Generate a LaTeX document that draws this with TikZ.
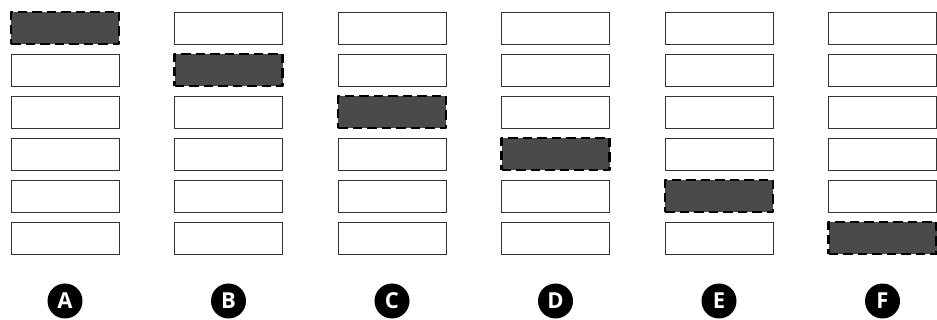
\documentclass[tikz,border=0pt]{standalone}
\usepackage{fontspec}
\setmainfont{Open Sans}
\definecolor{boxfill}{HTML}{4A4A4A}
\definecolor{boxline}{HTML}{333333}
\begin{document}
\begin{tikzpicture}[x=1pt,y=-1pt,
  plain/.style={draw=boxline,line width=0.9pt,fill=white,minimum width=108pt,minimum height=32pt,inner sep=0pt,outer sep=0pt},
  hilite/.style={draw=black,line width=2.8pt,fill=boxfill,dash pattern=on 9.5pt off 5pt,line join=round,minimum width=108pt,minimum height=32pt,inner sep=0pt,outer sep=0pt},
  badge/.style={circle,fill=black,text=white,minimum size=35pt,inner sep=0pt,font=\bfseries\fontsize{22}{22}\selectfont}]
\useasboundingbox (0,0) rectangle (937,320);
\foreach \c/\L [count=\i from 0] in {a/A,b/B,c/C,d/D,e/E,f/F}{
  \pgfmathsetmacro{\cx}{65+\i*163.5}
  \foreach \r in {0,...,5}{
    \pgfmathsetmacro{\cy}{28+\r*42}
    \ifnum\r=\i
      \node[hilite] (\c\r) at (\cx,\cy) {};
    \else
      \node[plain] (\c\r) at (\cx,\cy) {};
    \fi
  }
  \node[badge] (lab\c) at (\cx,301) {\L};
}
\end{tikzpicture}
\end{document}
